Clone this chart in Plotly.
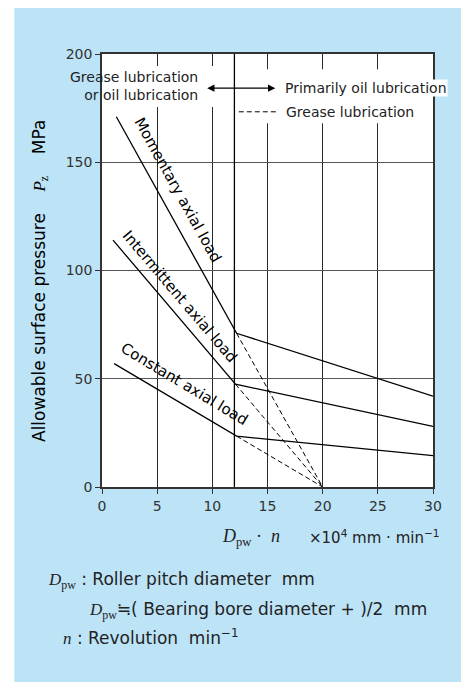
import plotly.graph_objects as go

# values (x: Dpw*n in 10^4 mm/min, y: allowable pressure in MPa)
momentary_x = [1.3, 12.2, 30]
momentary_y = [171, 71, 42]
intermittent_x = [1.0, 12.1, 30]
intermittent_y = [114, 47.5, 28]
constant_x = [1.1, 12.2, 30]
constant_y = [57, 23.5, 14.5]

grease_limit = (20, 0)      # dashed lines meet here
boundary_x = 12             # grease / oil lubrication boundary

x_ticks = [0, 5, 10, 15, 20, 25, 30]
y_ticks = [0, 50, 100, 150, 200]

FONT = "DejaVu Sans"
SERIF = "Liberation Serif"
TXT = "#222222"
BLUE = "#bde3f7"
NB = "\u00a0"

fig = go.Figure()

series = [
    (momentary_x, momentary_y),
    (intermittent_x, intermittent_y),
    (constant_x, constant_y),
]

for xs, ys in series:
    fig.add_trace(
        go.Scatter(
            x=xs, y=ys, mode='lines',
            line=dict(color='black', width=1.3),
            hoverinfo='skip', showlegend=False
        )
    )
    # grease lubrication: from the knee down to the limit
    fig.add_trace(
        go.Scatter(
            x=[xs[1], grease_limit[0]], y=[ys[1], grease_limit[1]], mode='lines',
            line=dict(color='black', width=1, dash='5px,3px'),
            hoverinfo='skip', showlegend=False
        )
    )

# boundary line at 12
fig.add_shape(type='line', x0=boundary_x, x1=boundary_x, y0=0, y1=200,
              line=dict(color='black', width=1.3), layer='between')

# white patches behind the top-left labels
fig.add_shape(type='rect', x0=0, x1=10.5, y0=175.5, y1=194.5,
              fillcolor='white', line=dict(width=0), layer='between')
fig.add_shape(type='rect', x0=12.4, x1=30, y0=168, y1=193,
              fillcolor='white', line=dict(width=0), layer='between')

# dashed key in front of "Grease lubrication"
fig.add_shape(type='line', x0=12.4, x1=15.8, y0=173.3, y1=173.3,
              line=dict(color='black', width=1, dash='5px,3px'))

# white strip left of the blue panel (page body adds 8px already)
fig.add_shape(type='rect', xref='paper', yref='paper', x0=-0.4, x1=(14 - 101.7) / 331,
              y0=-0.6, y1=1.2, fillcolor='white', line=dict(width=0), layer='below')

anns = []

# curve labels
anns.append(dict(x=6.85, y=137, text='Momentary axial load', textangle=61))
anns.append(dict(x=7.0, y=88, text='Intermittent axial load', textangle=49.6))
anns.append(dict(x=7.45, y=47.5, text='Constant axial load', textangle=31))

for a in anns:
    a.update(xref='x', yref='y', showarrow=False, xanchor='center', yanchor='middle',
             font=dict(family=FONT, size=15, color='black'))

anns.append(dict(x=8.9, y=185.3, xref='x', yref='y', showarrow=False,
                 xanchor='right', yanchor='middle', align='right',
                 text='Grease lubrication<br>or oil lubrication',
                 font=dict(family=FONT, size=14, color=TXT)))

# double arrow
anns.append(dict(x=15.7, y=184.2, ax=9.4, ay=184.2, xref='x', yref='y', axref='x', ayref='y',
                 text='', showarrow=True, arrowside='end+start', arrowhead=2,
                 arrowsize=1.2, arrowwidth=1.2, arrowcolor='black'))

anns.append(dict(x=16.45, y=184.2, xref='x', yref='y', showarrow=False,
                 xanchor='left', yanchor='middle', text='Primarily oil lubrication',
                 bgcolor='white', borderpad=0,
                 font=dict(family=FONT, size=14, color=TXT)))
anns.append(dict(x=16.45, y=173.3, xref='x', yref='y', showarrow=False,
                 xanchor='left', yanchor='middle', text='Grease lubrication',
                 font=dict(family=FONT, size=14, color=TXT)))


def px_x(p):
    return (p - 101.7) / 331


def px_y(p):
    return (487.3 - p) / 433


# y axis title
anns.append(dict(x=px_x(40), y=px_y(281), xref='paper', yref='paper', showarrow=False,
                 textangle=-90, xanchor='center', yanchor='middle',
                 text='Allowable surface pressure' + NB * 4
                      + '<span style="font-family:%s"><i>P</i><sub>z</sub></span>' % SERIF
                      + NB * 4 + 'MPa',
                 font=dict(family=FONT, size=17, color='black')))

# x axis title
anns.append(dict(x=px_x(251), y=px_y(538), xref='paper', yref='paper', showarrow=False,
                 xanchor='center', yanchor='middle',
                 text='<i>D</i><sub>pw</sub>' + NB + '·' + NB * 2 + '<i>n</i>',
                 font=dict(family=SERIF, size=18, color=TXT)))
anns.append(dict(x=px_x(307), y=px_y(537), xref='paper', yref='paper', showarrow=False,
                 xanchor='left', yanchor='middle',
                 text='×10<sup>4</sup> mm · min<sup>−1</sup>',
                 font=dict(family=FONT, size=15, color=TXT)))

# notes
dpw = '<span style="font-family:%s"><i>D</i><sub>pw</sub></span>' % SERIF
anns.append(dict(x=px_x(46), y=px_y(581), xref='paper', yref='paper', showarrow=False,
                 xanchor='left', yanchor='middle',
                 text=dpw + ' : Roller pitch diameter' + NB * 2 + 'mm',
                 font=dict(family=FONT, size=17, color=TXT)))
anns.append(dict(x=px_x(87), y=px_y(611), xref='paper', yref='paper', showarrow=False,
                 xanchor='left', yanchor='middle',
                 text=dpw + '≒( Bearing bore diameter + )/2' + NB * 2 + 'mm',
                 font=dict(family=FONT, size=17, color=TXT)))
anns.append(dict(x=px_x(61), y=px_y(637), xref='paper', yref='paper', showarrow=False,
                 xanchor='left', yanchor='middle',
                 text='<span style="font-family:%s"><i>n</i></span>' % SERIF
                      + ' : Revolution' + NB * 2 + 'min<sup>−1</sup>',
                 font=dict(family=FONT, size=17, color=TXT)))

fig.update_layout(
    width=461, height=674,
    margin=dict(l=94, r=36, t=46, b=195),
    paper_bgcolor=BLUE,
    plot_bgcolor='white',
    showlegend=False,
    annotations=anns,
    font=dict(family=FONT, size=14, color='#333333'),
)

fig.update_xaxes(
    range=[0, 30], tickvals=x_ticks, ticks='outside', ticklen=5, tickcolor='#333',
    showgrid=True, gridcolor='#2a2a2a', gridwidth=1.2,
    showline=True, linecolor='#333', linewidth=1.5, mirror=True,
    zeroline=False, fixedrange=True,
    tickfont=dict(family=FONT, size=14, color='#333'),
)
fig.update_yaxes(
    range=[0, 200], tickvals=y_ticks, ticks='outside', ticklen=5, tickcolor='#333',
    showgrid=True, gridcolor='#555', gridwidth=1.2,
    showline=True, linecolor='#333', linewidth=1.5, mirror=True,
    zeroline=False, fixedrange=True,
    tickfont=dict(family=FONT, size=14, color='#333'),
)

fig.write_html("out.html")
